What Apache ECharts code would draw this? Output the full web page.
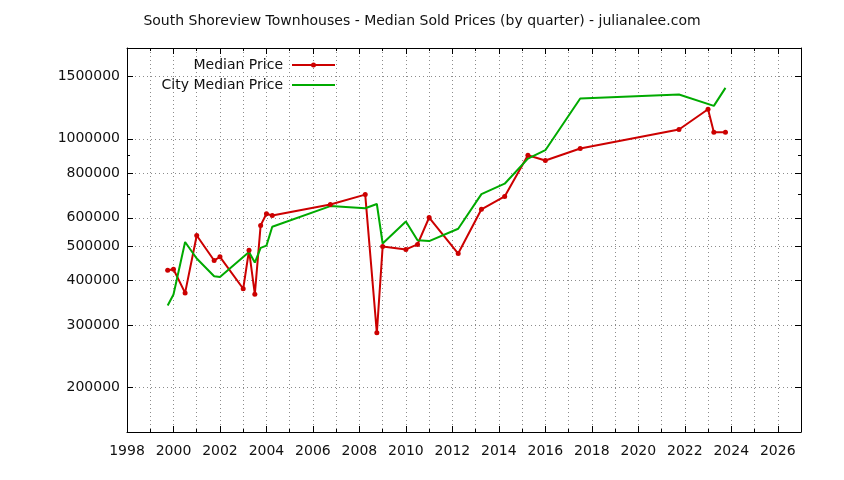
<!DOCTYPE html>
<html>
<head>
<meta charset="utf-8">
<script src="https://cdn.jsdelivr.net/npm/echarts@6/dist/echarts.min.js"></script>
<style>
  html, body { margin: 0; padding: 0; background: #ffffff; }
  #chart { width: 844px; height: 480px; }
</style>
</head>
<body>
<div id="chart"></div>
<script>
// ---- data (dates as decimal years, prices in dollars) ----
const titleText = 'South Shoreview Townhouses - Median Sold Prices (by quarter) - julianalee.com';
const seriesNames = ['Median Price', 'City Median Price'];

const saleDates = [1999.75, 2000.0, 2000.5, 2001.0, 2001.75, 2002.0, 2003.0, 2003.25, 2003.5, 2003.75,
  2004.0, 2004.25, 2006.75, 2008.25, 2008.75, 2009.0, 2010.0, 2010.5, 2011.0, 2012.25,
  2013.25, 2014.25, 2015.25, 2016.0, 2017.5, 2021.75, 2023.0, 2023.25, 2023.75];
const medianPrices = [427000, 430000, 369000, 535000, 455000, 466000, 379000, 486000, 366000, 571000,
  616000, 609000, 654000, 697000, 285000, 498000, 489000, 505000, 601000, 476000,
  634000, 689000, 899000, 869000, 939000, 1062000, 1211000, 1043000, 1043000];

const cityDates = [1999.75, 2000.0, 2000.5, 2001.0, 2001.75, 2002.0, 2003.25, 2003.5, 2003.75,
  2004.0, 2004.25, 2006.75, 2008.25, 2008.75, 2009.0, 2010.0, 2010.5, 2011.0, 2012.25,
  2013.25, 2014.25, 2015.25, 2016.0, 2017.5, 2021.75, 2023.25, 2023.75];
const cityPrices = [340000, 365000, 513000, 461000, 411000, 409000, 481000, 449000, 494000,
  501000, 566000, 647000, 638000, 656000, 508000, 586000, 519000, 516000, 559000,
  699000, 748000, 880000, 929000, 1298000, 1332000, 1238000, 1391000];

const yLabelValues = [200000, 300000, 400000, 500000, 600000, 800000, 1000000, 1500000];
const yMinorValues = [700000, 900000];
const xMin = 1998, xMax = 2027;
const yMin = 150000, yMax = 1800000;

// ---- chart ----
const FONT = 'DejaVu Sans';
const TEXT = '#111111';
const RED = '#cc0000';
const GREEN = '#00aa00';
const chart = echarts.init(document.getElementById('chart'), null, { renderer: 'canvas' });

// legend icons: 43x14 boxes (corner anchors keep the full box), a 2px line, red one with a dot
const iconLine = 'path://M0,0Z M43,14Z M0,6H43V8H0Z';
const iconLineDot = 'path://M0,0Z M43,14Z M0,6H43V8H0Z M19,7A2.5,2.5 0 1,1 24,7A2.5,2.5 0 1,1 19,7Z';

const gridLine = { show: true, lineStyle: { color: '#8c8c8c', width: 1, type: [1, 3] } };
const blackLine = { show: true, lineStyle: { color: '#000000', width: 1 } };

function xAxisDef(position, interval, tickLen, opts) {
  return Object.assign({
    type: 'value', position: position, min: xMin, max: xMax, interval: interval,
    axisLine: { show: false },
    axisTick: { show: true, inside: true, length: tickLen, lineStyle: { color: '#000', width: 1 } },
    axisLabel: { show: false },
    splitLine: { show: false }
  }, opts || {});
}
function yAxisDef(position, values, tickLen, opts) {
  return Object.assign({
    type: 'log', logBase: 10, position: position, min: yMin, max: yMax,
    axisLine: { show: false },
    axisTick: { show: true, inside: true, length: tickLen, customValues: values, lineStyle: { color: '#000', width: 1 } },
    axisLabel: { show: false },
    splitLine: { show: false }
  }, opts || {});
}

const option = {
  animation: false,
  backgroundColor: '#ffffff',
  title: {
    text: titleText, left: 'center', top: 9,
    textStyle: { fontFamily: FONT, fontSize: 14, fontWeight: 'normal', color: TEXT }
  },
  legend: [
    {
      data: [{ name: seriesNames[0], icon: iconLineDot }], orient: 'vertical', align: 'right', right: 509, top: 58, padding: 0,
      itemWidth: 43, itemHeight: 14,
      textStyle: { fontFamily: FONT, fontSize: 14, color: TEXT, padding: [0, 4, 0, 0] }
    },
    {
      data: [{ name: seriesNames[1], icon: iconLine }], orient: 'vertical', align: 'right', right: 509, top: 78, padding: 0,
      itemWidth: 43, itemHeight: 14,
      textStyle: { fontFamily: FONT, fontSize: 14, color: TEXT, padding: [0, 4, 0, 0] }
    }
  ],
  grid: { left: 127, right: 43, top: 48, bottom: 48, containLabel: false },
  xAxis: [
    xAxisDef('bottom', 1, 3, {
      axisLine: blackLine,
      axisLabel: {
        show: true, margin: 12, fontFamily: FONT, fontSize: 14, color: TEXT,
        formatter: function (v) { return (Math.round(v) % 2 === 0) ? String(Math.round(v)) : ''; }
      },
      splitLine: gridLine
    }),
    xAxisDef('bottom', 2, 6),
    xAxisDef('top', 1, 3, { axisLine: blackLine }),
    xAxisDef('top', 2, 6)
  ],
  yAxis: [
    yAxisDef('left', yLabelValues, 6, {
      axisLine: blackLine,
      axisLabel: {
        show: true, margin: 7, fontFamily: FONT, fontSize: 14, color: TEXT,
        customValues: yLabelValues,
        formatter: function (v) { return String(Math.round(v)); }
      },
      splitLine: gridLine
    }),
    yAxisDef('left', yMinorValues, 3),
    yAxisDef('right', yLabelValues, 6, { axisLine: blackLine }),
    yAxisDef('right', yMinorValues, 3)
  ],
  series: [
    {
      name: seriesNames[0], type: 'line', xAxisIndex: 0, yAxisIndex: 0,
      data: saleDates.map(function (d, i) { return [d, medianPrices[i]]; }),
      symbol: 'circle', symbolSize: 5, showSymbol: true,
      lineStyle: { color: RED, width: 2 },
      itemStyle: { color: RED },
      emphasis: { disabled: true }
    },
    {
      name: seriesNames[1], type: 'line', xAxisIndex: 0, yAxisIndex: 0,
      data: cityDates.map(function (d, i) { return [d, cityPrices[i]]; }),
      symbol: 'none', showSymbol: false,
      lineStyle: { color: GREEN, width: 2 },
      itemStyle: { color: GREEN },
      emphasis: { disabled: true }
    }
  ]
};
chart.setOption(option);
</script>
</body>
</html>
